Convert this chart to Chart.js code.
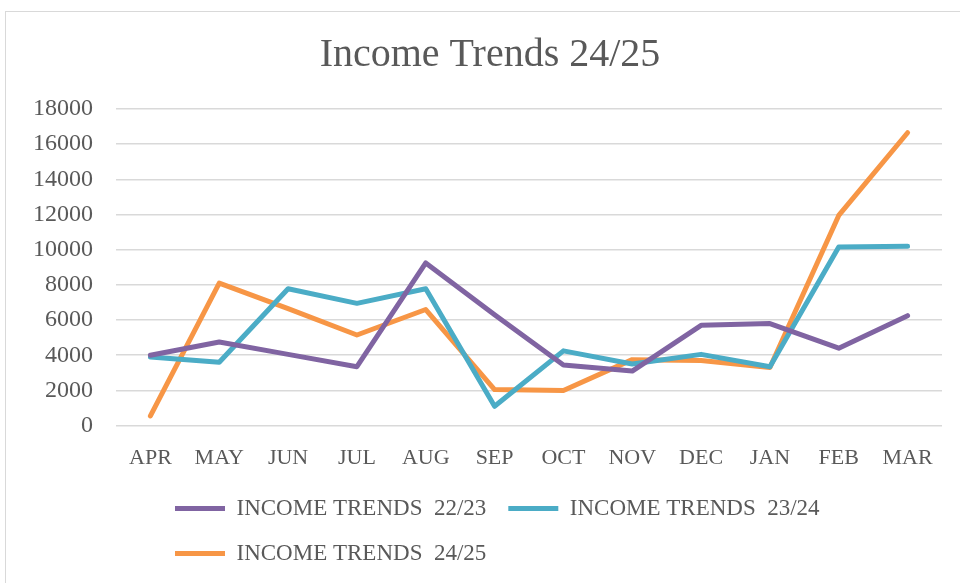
<!DOCTYPE html>
<html>
<head>
<meta charset="utf-8">
<script src="https://cdn.jsdelivr.net/npm/chart.js@4"></script>
<style>
    html, body { margin: 0; padding: 0; background: #fff; overflow: hidden; }
    #wrap { position: relative; width: 960px; height: 583px; }
    #frame { position: absolute; left: 5px; top: 11px; width: 1000px; height: 600px; border: 1px solid #d9d9d9; box-sizing: border-box; }
    canvas { position: absolute; left: 0; top: 0; }
</style>
</head>
<body>
<div id="wrap">
    <div id="frame"></div>
    <canvas id="incomeChart" width="960" height="583"></canvas>
</div>
<script>
// values
const months = ['APR', 'MAY', 'JUN', 'JUL', 'AUG', 'SEP', 'OCT', 'NOV', 'DEC', 'JAN', 'FEB', 'MAR'];
const income2223 = [4000, 4750, 4050, 3350, 9250, 6300, 3450, 3100, 5700, 5800, 4400, 6250];
const income2324 = [3900, 3600, 7780, 6950, 7780, 1100, 4250, 3500, 4050, 3350, 10150, 10200];
const income2425 = [550, 8100, 6650, 5150, 6600, 2050, 2000, 3750, 3700, 3300, 11950, 16650];
const seriesNames = ['INCOME TRENDS  22/23', 'INCOME TRENDS  23/24', 'INCOME TRENDS  24/25'];
const yTicks = { min: 0, max: 18000, step: 2000 };

const textColor = '#595959';
const serif = "'Liberation Serif', 'DejaVu Serif', serif";

// Excel centres the title on the whole frame and keeps the legend rows
// left aligned under the plot, so nudge those two boxes after layout
const boxNudge = {
    id: 'boxNudge',
    afterLayout(chart) {
        chart.titleBlock.left = 38;
        chart.legend.left = 153;
        chart.legend.top -= 7;
    }
};

function makeSeries(label, data, color) {
    return {
        label: label,
        data: data,
        borderColor: color,
        backgroundColor: color,
        borderWidth: 5,
        borderCapStyle: 'round',
        borderJoinStyle: 'round',
        pointRadius: 0,
        pointHoverRadius: 0,
        tension: 0
    };
}

const ctx = document.getElementById('incomeChart').getContext('2d');
new Chart(ctx, {
    type: 'line',
    data: {
        labels: months,
        datasets: [
            makeSeries(seriesNames[0], income2223, '#8064a2'),
            makeSeries(seriesNames[1], income2324, '#4bacc6'),
            makeSeries(seriesNames[2], income2425, '#f79646')
        ]
    },
    plugins: [boxNudge],
    options: {
        responsive: false,
        animation: false,
        layout: { padding: { left: 10, right: 18, top: 0, bottom: 1 } },
        plugins: {
            title: {
                display: true,
                text: 'Income Trends 24/25',
                color: textColor,
                font: { family: serif, size: 40, weight: 'normal' },
                padding: { top: 31, bottom: 30 }
            },
            legend: {
                position: 'bottom',
                align: 'start',
                labels: {
                    color: textColor,
                    font: { family: serif, size: 23 },
                    usePointStyle: true,
                    pointStyle: 'line',
                    pointStyleWidth: 50,
                    padding: 22
                }
            },
            tooltip: { enabled: false }
        },
        scales: {
            x: {
                offset: true,
                grid: { display: false },
                border: { display: false },
                ticks: {
                    color: textColor,
                    font: { family: serif, size: 22 },
                    padding: 11,
                    maxRotation: 0,
                    autoSkip: false
                }
            },
            y: {
                min: yTicks.min,
                max: yTicks.max,
                grid: { color: '#d9d9d9', lineWidth: 1.5, drawTicks: false },
                border: { display: false },
                ticks: {
                    stepSize: yTicks.step,
                    color: textColor,
                    font: { family: serif, size: 24 },
                    padding: 23,
                    callback: (value) => String(value)
                }
            }
        }
    }
});
</script>
</body>
</html>
